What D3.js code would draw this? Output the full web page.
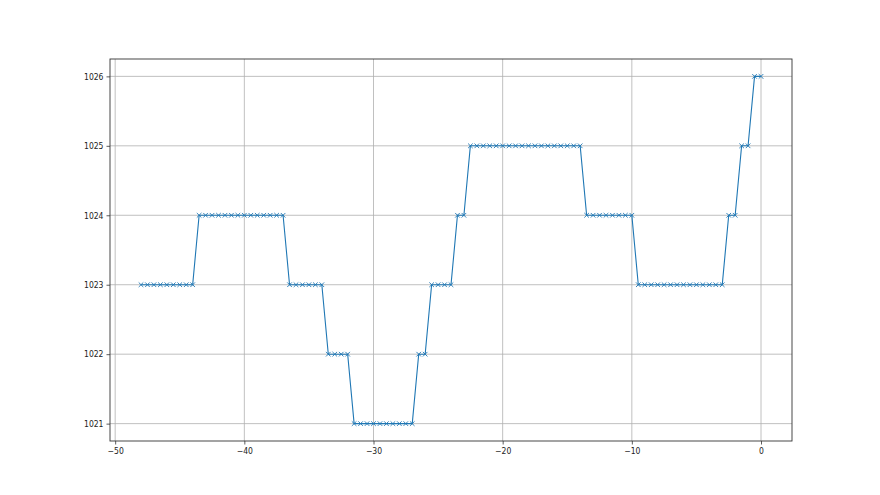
<!DOCTYPE html>
<html>
<head>
<meta charset="utf-8">
<script src="https://cdn.jsdelivr.net/npm/d3@7"></script>
<style>
  body { margin: 0; background: #fff; }
  text { font-family: "DejaVu Sans Condensed", "DejaVu Sans", sans-serif; }
</style>
</head>
<body>
<script>
// readings, one per half step
const xValues = [
  -48, -47.5, -47, -46.5, -46, -45.5, -45, -44.5, -44,
  -43.5, -43, -42.5, -42, -41.5, -41, -40.5, -40, -39.5, -39, -38.5, -38, -37.5, -37,
  -36.5, -36, -35.5, -35, -34.5, -34,
  -33.5, -33, -32.5, -32,
  -31.5, -31, -30.5, -30, -29.5, -29, -28.5, -28, -27.5, -27,
  -26.5, -26,
  -25.5, -25, -24.5, -24,
  -23.5, -23,
  -22.5, -22, -21.5, -21, -20.5, -20, -19.5, -19, -18.5, -18, -17.5, -17, -16.5, -16, -15.5, -15, -14.5, -14,
  -13.5, -13, -12.5, -12, -11.5, -11, -10.5, -10,
  -9.5, -9, -8.5, -8, -7.5, -7, -6.5, -6, -5.5, -5, -4.5, -4, -3.5, -3,
  -2.5, -2,
  -1.5, -1,
  -0.5, 0
];
const yValues = [
  1023, 1023, 1023, 1023, 1023, 1023, 1023, 1023, 1023,
  1024, 1024, 1024, 1024, 1024, 1024, 1024, 1024, 1024, 1024, 1024, 1024, 1024, 1024,
  1023, 1023, 1023, 1023, 1023, 1023,
  1022, 1022, 1022, 1022,
  1021, 1021, 1021, 1021, 1021, 1021, 1021, 1021, 1021, 1021,
  1022, 1022,
  1023, 1023, 1023, 1023,
  1024, 1024,
  1025, 1025, 1025, 1025, 1025, 1025, 1025, 1025, 1025, 1025, 1025, 1025, 1025, 1025, 1025, 1025, 1025, 1025,
  1024, 1024, 1024, 1024, 1024, 1024, 1024, 1024,
  1023, 1023, 1023, 1023, 1023, 1023, 1023, 1023, 1023, 1023, 1023, 1023, 1023, 1023,
  1024, 1024,
  1025, 1025,
  1026, 1026
];
const xTicks = [-50, -40, -30, -20, -10, 0];
const yTicks = [1021, 1022, 1023, 1024, 1025, 1026];

const width = 880, height = 495;
const padL = 110, padR = 792, padT = 59, padB = 441;
const blue = "#1f77b4";

const svg = d3.select("body").append("svg")
    .attr("width", width).attr("height", height);

const x = d3.scaleLinear().domain([-50.4, 2.4]).range([padL, padR]);
const y = d3.scaleLinear().domain([1020.75, 1026.25]).range([padB, padT]);

// grid
svg.append("g").selectAll("line.gx")
    .data(xTicks)
    .enter().append("line")
        .attr("x1", d => x(d)).attr("x2", d => x(d))
        .attr("y1", padT).attr("y2", padB)
        .attr("stroke", "#b0b0b0").attr("stroke-width", 0.8);
svg.append("g").selectAll("line.gy")
    .data(yTicks)
    .enter().append("line")
        .attr("y1", d => y(d)).attr("y2", d => y(d))
        .attr("x1", padL).attr("x2", padR)
        .attr("stroke", "#b0b0b0").attr("stroke-width", 0.8);

// axes
const xAxis = svg.append("g")
    .attr("transform", `translate(0,${padB})`)
    .call(d3.axisBottom(x).tickValues(xTicks).tickSize(3.5).tickPadding(3).tickFormat(d => d < 0 ? "\u2212" + Math.abs(d) : d));
const yAxis = svg.append("g")
    .attr("transform", `translate(${padL},0)`)
    .call(d3.axisLeft(y).tickValues(yTicks).tickSize(3.5).tickPadding(3).tickFormat(d3.format("d")));
[xAxis, yAxis].forEach(a => {
  a.select(".domain").remove();
  a.selectAll("text").attr("font-size", 8.5).attr("fill", "#222")
      .style("font-family", "'DejaVu Sans Condensed', 'DejaVu Sans', sans-serif");
  a.selectAll("line").attr("stroke", "#333").attr("stroke-width", 0.8);
});

// frame
svg.append("rect")
    .attr("x", padL).attr("y", padT)
    .attr("width", padR - padL).attr("height", padB - padT)
    .attr("fill", "none").attr("stroke", "#333").attr("stroke-width", 0.9);

const pts = xValues.map((d, i) => [d, yValues[i]]);

svg.append("path")
    .datum(pts)
    .attr("fill", "none")
    .attr("stroke", blue)
    .attr("stroke-width", 1.1)
    .attr("d", d3.line().x(d => x(d[0])).y(d => y(d[1])));

// x markers
const m = 2.3;
svg.append("g").selectAll("path.mk")
    .data(pts)
    .enter().append("path")
        .attr("d", d => {
          const cx = x(d[0]), cy = y(d[1]);
          return `M${cx - m},${cy - m}L${cx + m},${cy + m}M${cx - m},${cy + m}L${cx + m},${cy - m}`;
        })
        .attr("stroke", blue)
        .attr("stroke-width", 0.9)
        .attr("fill", "none");
</script>
</body>
</html>
